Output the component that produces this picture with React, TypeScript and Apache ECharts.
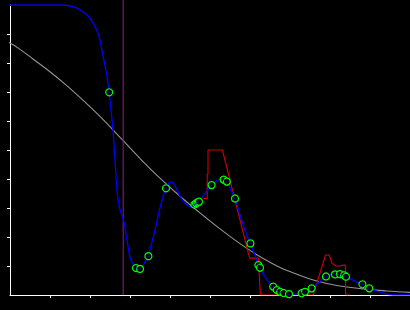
import React, { useEffect, useRef } from "react";
import * as echarts from "echarts";

const xTicks = [1, 2, 3, 4, 5, 6, 7, 8, 9];
const yTicks = [1, 2, 3, 4, 5, 6, 7, 8, 9];

const grayCurve: number[][] = [
  [-0.25, 8.83], [0, 8.69], [0.25, 8.47], [0.575, 8.14], [1.0, 7.7], [1.42, 7.22],
  [1.83, 6.71], [2.25, 6.16], [2.83, 5.32], [3.25, 4.71], [3.75, 4.03], [4.33, 3.31],
  [4.875, 2.69], [5.25, 2.28], [5.75, 1.77], [6.17, 1.39], [6.75, 0.95], [7.125, 0.74],
  [7.625, 0.5], [8.17, 0.33], [8.83, 0.21], [9.42, 0.14], [10, 0.09],
];

const blueCurve: number[][] = [
  [0, 10], [1.325, 10], [1.575, 9.94], [1.825, 9.77], [2.0, 9.54], [2.17, 9.14],
  [2.25, 8.79], [2.33, 8.22], [2.42, 7.59], [2.48, 6.99], [2.525, 6.38], [2.575, 5.69],
  [2.625, 4.66], [2.675, 3.62], [2.725, 3.1], [2.775, 2.83], [2.85, 2.52], [2.925, 1.9],
  [3.0, 1.31], [3.075, 1.07], [3.15, 0.93], [3.25, 0.9], [3.35, 1.07], [3.45, 1.34],
  [3.625, 2.24], [3.75, 3.0], [3.9, 3.69], [4.025, 3.9], [4.125, 3.76], [4.25, 3.41],
  [4.375, 3.17], [4.5, 3.05], [4.625, 3.1], [4.7, 3.21], [4.825, 3.41], [4.9, 3.55],
  [5.05, 3.79], [5.2, 3.97], [5.35, 3.98], [5.425, 3.9], [5.525, 3.62], [5.625, 3.34],
  [5.75, 2.76], [5.875, 2.24], [6.0, 1.79], [6.125, 1.38], [6.2, 1.03], [6.3, 0.79],
  [6.45, 0.48], [6.575, 0.28], [6.75, 0.12], [6.975, 0.03], [7.15, 0.03], [7.3, 0.07],
  [7.4, 0.14], [7.55, 0.24], [7.7, 0.41], [7.9, 0.66], [8.125, 0.71], [8.25, 0.72],
  [8.4, 0.63], [8.625, 0.48], [8.8, 0.37], [8.975, 0.23], [9.25, 0.1], [9.575, 0], [10, 0],
];

const redSteps: number[][] = [
  [4.82, 3.33], [4.93, 3.33], [4.93, 4.16], [4.95, 4.16], [4.95, 5.0], [5.31, 5.0],
  [5.99, 1.27], [6.21, 1.27], [6.26, 0], [7.58, 0], [7.89, 1.38], [7.98, 1.38],
  [8.05, 1.09], [8.15, 1.0], [8.25, 1.0], [8.33, 1.03], [8.39, 1.03], [8.39, 0], [8.5, 0],
];

const circlePoints: number[][] = [
  [2.48, 6.99], [3.15, 0.93], [3.25, 0.9], [3.46, 1.34], [3.9, 3.68], [4.61, 3.12],
  [4.65, 3.16], [4.69, 3.19], [4.725, 3.22], [5.04, 3.79], [5.34, 3.98], [5.42, 3.91],
  [5.625, 3.33], [6.01, 1.78], [6.21, 1.03], [6.25, 0.94], [6.58, 0.29], [6.67, 0.17],
  [6.75, 0.11], [6.84, 0.07], [6.975, 0.03], [7.29, 0.06], [7.375, 0.11], [7.54, 0.23],
  [7.9, 0.64], [8.125, 0.71], [8.25, 0.72], [8.35, 0.68], [8.4, 0.63], [8.81, 0.37],
  [8.98, 0.23],
];

const markerLine: number[][] = [
  [2.83, 0], [2.83, 10.17],
];

export default function App() {
  const ref = useRef<HTMLDivElement>(null);
  useEffect(() => {
    document.body.style.margin = "0";
    document.body.style.background = "#000";
    const chart = echarts.init(ref.current!, null, { renderer: "svg" });
    const axisCommon = {
      type: "value" as const,
      min: 0,
      max: 10,
      interval: 1,
      axisLine: { show: true, onZero: false, lineStyle: { color: "#ffffff", width: 1 } },
      axisLabel: { show: false },
      splitLine: { show: false },
    };
    chart.setOption({
      animation: false,
      backgroundColor: "#000000",
      grid: { left: 10, top: 5, width: 400, height: 290, containLabel: false },
      xAxis: {
        ...axisCommon,
        axisTick: { show: true, inside: false, length: 3, customValues: xTicks, lineStyle: { color: "#ffffff" } },
      },
      yAxis: {
        ...axisCommon,
        axisTick: { show: true, inside: false, length: 3, customValues: yTicks, lineStyle: { color: "#ffffff" } },
      },
      series: [
        {
          type: "line",
          data: grayCurve,
          showSymbol: false,
          smooth: 0.4,
          clip: false,
          lineStyle: { color: "#949494", width: 1.1 },
          z: 1,
        },
        {
          type: "line",
          data: markerLine,
          showSymbol: false,
          clip: false,
          lineStyle: { color: "#8a148a", width: 1.1 },
          z: 1,
        },
        {
          type: "line",
          data: redSteps,
          showSymbol: false,
          lineStyle: { color: "#d40000", width: 1.1 },
          z: 2,
        },
        {
          type: "line",
          data: blueCurve,
          showSymbol: false,
          smooth: 0.3,
          lineStyle: { color: "#0000ff", width: 1.3 },
          z: 3,
        },
        {
          type: "scatter",
          data: circlePoints,
          symbol: "circle",
          symbolSize: 7,
          itemStyle: { color: "#000000", borderColor: "#00ff00", borderWidth: 1.2, opacity: 1 },
          z: 4,
        },
        {
          type: "scatter",
          data: circlePoints,
          symbol: "circle",
          symbolSize: 1.5,
          itemStyle: { color: "#0000ff" },
          z: 5,
        },
      ],
    });
    return () => chart.dispose();
  }, []);
  return <div ref={ref} style={{ width: 410, height: 310, background: "#000" }} />;
}
